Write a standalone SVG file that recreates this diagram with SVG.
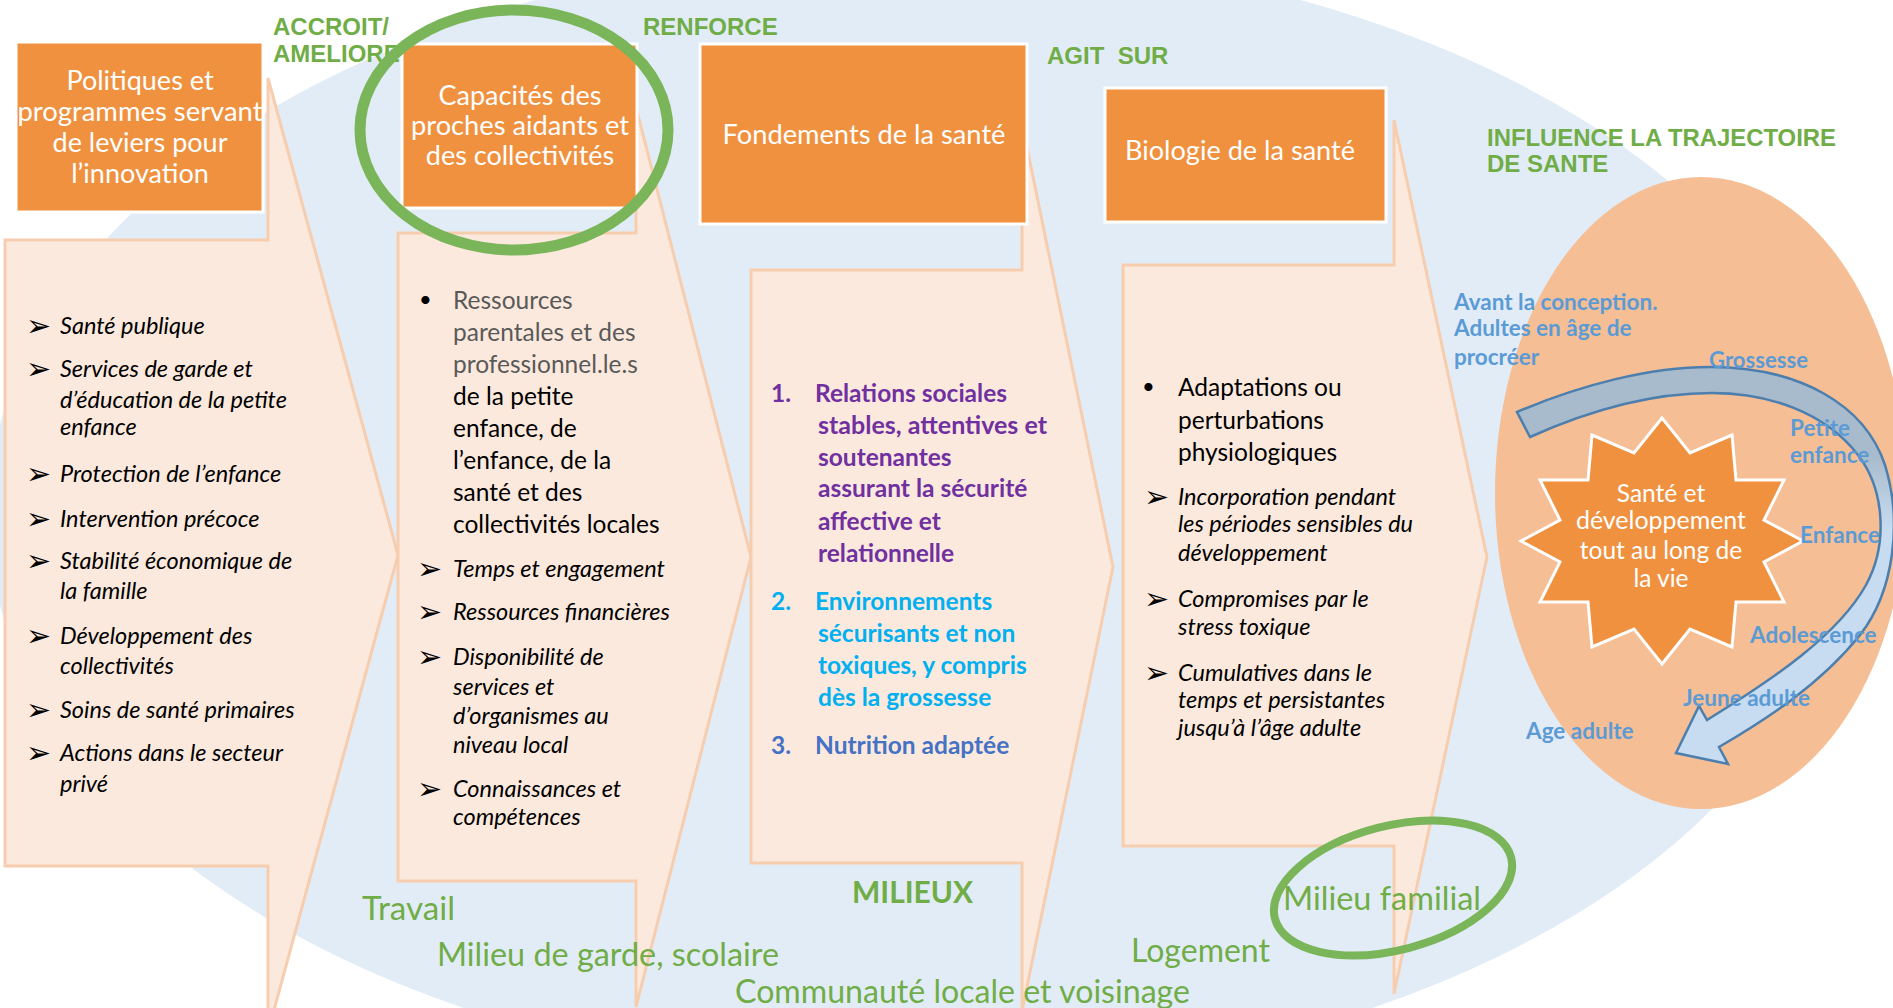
<svg xmlns="http://www.w3.org/2000/svg" width="1893" height="1008" viewBox="0 0 1893 1008">
<defs>
<linearGradient id="arrowGrad" gradientUnits="userSpaceOnUse" x1="0" y1="455" x2="0" y2="530">
<stop offset="0" stop-color="#A8BBCC"/><stop offset="1" stop-color="#C7DCF0"/>
</linearGradient>
<style>
.bg{fill:#E2ECF7}
.chev{fill:#FCE9DD;stroke:#F7CDB0;stroke-width:3}
.box{fill:#F0913F;stroke:#FFFFFF;stroke-width:3}
.bt{font-family:Lato,'Noto Sans',sans-serif;font-size:27px;fill:#FFFFFF;text-anchor:middle}
.verb{font-family:'Liberation Sans',Arial,sans-serif;font-weight:bold;font-size:24px;fill:#70AD47}
.it{font-family:Lato,'Noto Sans',sans-serif;font-style:italic;font-size:23.5px;fill:#000000}
.rg{font-family:Lato,'Noto Sans',sans-serif;font-size:24.5px;fill:#000000}
.grey{fill:#595959}
.bd{font-family:Lato,'Noto Sans',sans-serif;font-weight:bold;font-size:24.5px}
.p1{fill:#7030A0}.p2{fill:#00B0F0}.p3{fill:#4472C4}
.arw{font-family:'DejaVu Sans',sans-serif;font-size:30px;fill:#000000}
.dot{font-family:Lato,'Noto Sans',sans-serif;font-size:22px;fill:#000000}
.blu{font-family:Lato,'Noto Sans',sans-serif;font-weight:bold;font-size:22.5px;fill:#5B9BD5}
.st{font-family:Lato,'Noto Sans',sans-serif;font-size:24.5px;fill:#FFFFFF;text-anchor:middle}
.mil{font-family:Lato,'Noto Sans',sans-serif;font-size:32px;fill:#70AD47}
.milb{font-family:Lato,'Noto Sans',sans-serif;font-weight:bold;font-size:31px;fill:#70AD47}
.ring{fill:none;stroke:#7AB55A}
</style>
</defs>

<ellipse class="bg" cx="918" cy="515" rx="930" ry="565"/>
<ellipse cx="1701" cy="493" rx="206" ry="316" fill="#F5BE95"/>

<g id="col-politiques">
<path class="chev" d="M5,240 H268 V78 L398,555 L268,1032 V866 H5 Z"/>
<rect class="box" x="16" y="42" width="247" height="170"/>
<text class="bt" x="140" y="90">Politiques et</text>
<text class="bt" x="140" y="121" textLength="245" lengthAdjust="spacingAndGlyphs">programmes servant</text>
<text class="bt" x="140" y="152">de leviers pour</text>
<text class="bt" x="140" y="183">l’innovation</text>
<g class="arw">
<text x="26" y="336">➢</text><text x="26" y="379">➢</text><text x="26" y="484">➢</text><text x="26" y="529">➢</text>
<text x="26" y="571">➢</text><text x="26" y="646">➢</text><text x="26" y="720">➢</text><text x="26" y="763">➢</text>
</g>
<g class="it">
<text x="60" y="334">Santé publique</text>
<text x="60" y="377">Services de garde et</text>
<text x="60" y="408">d’éducation de la petite</text>
<text x="60" y="435">enfance</text>
<text x="60" y="482">Protection de l’enfance</text>
<text x="60" y="527">Intervention précoce</text>
<text x="60" y="569">Stabilité économique de</text>
<text x="60" y="599">la famille</text>
<text x="60" y="644">Développement des</text>
<text x="60" y="674">collectivités</text>
<text x="60" y="718">Soins de santé primaires</text>
<text x="60" y="761">Actions dans le secteur</text>
<text x="60" y="792">privé</text>
</g>
</g>

<g id="col-capacites">
<path class="chev" d="M398,233 H636 V107 L751,557 L636,1007 V881 H398 Z"/>
<rect class="box" x="402" y="44" width="235" height="164"/>
<text class="bt" x="520" y="105">Capacités des</text>
<text class="bt" x="520" y="135" textLength="218" lengthAdjust="spacingAndGlyphs">proches aidants et</text>
<text class="bt" x="520" y="165">des collectivités</text>
<text class="dot" x="419" y="307">•</text>
<text class="rg grey" x="453" y="309">Ressources</text>
<text class="rg grey" x="453" y="341">parentales et des</text>
<text class="rg grey" x="453" y="373">professionnel.le.s</text>
<text class="rg" x="453" y="405">de la petite</text>
<text class="rg" x="453" y="437">enfance, de</text>
<text class="rg" x="453" y="469">l’enfance, de la</text>
<text class="rg" x="453" y="501">santé et des</text>
<text class="rg" x="453" y="533">collectivités locales</text>
<g class="arw">
<text x="417" y="579">➢</text><text x="417" y="622">➢</text><text x="417" y="667">➢</text><text x="417" y="799">➢</text>
</g>
<g class="it">
<text x="453" y="577">Temps et engagement</text>
<text x="453" y="620">Ressources financières</text>
<text x="453" y="665">Disponibilité de</text>
<text x="453" y="695">services et</text>
<text x="453" y="724">d’organismes au</text>
<text x="453" y="753">niveau local</text>
<text x="453" y="797">Connaissances et</text>
<text x="453" y="825">compétences</text>
</g>
</g>

<g id="col-fondements">
<path class="chev" d="M751,270 H1022 V123 L1113,567 L1022,1011 V863 H751 Z"/>
<rect class="box" x="700" y="44" width="327" height="180"/>
<text class="bt" x="864" y="144" textLength="283" lengthAdjust="spacingAndGlyphs">Fondements de la santé</text>
<g class="bd p1">
<text x="771" y="402">1.</text>
<text x="815" y="402">Relations sociales</text>
<text x="818" y="434" textLength="229" lengthAdjust="spacingAndGlyphs">stables, attentives et</text>
<text x="818" y="466">soutenantes</text>
<text x="818" y="497">assurant la sécurité</text>
<text x="818" y="530">affective et</text>
<text x="818" y="562">relationnelle</text>
</g>
<g class="bd p2">
<text x="771" y="610">2.</text>
<text x="815" y="610">Environnements</text>
<text x="818" y="642">sécurisants et non</text>
<text x="818" y="674">toxiques, y compris</text>
<text x="818" y="706">dès la grossesse</text>
</g>
<g class="bd p3">
<text x="771" y="754">3.</text>
<text x="815" y="754">Nutrition adaptée</text>
</g>
</g>

<g id="col-biologie">
<path class="chev" d="M1123,265 H1394 V120 L1487,557 L1394,994 V846 H1123 Z"/>
<rect class="box" x="1105" y="88" width="281" height="134"/>
<text class="bt" x="1240" y="160" textLength="230" lengthAdjust="spacingAndGlyphs">Biologie de la santé</text>
<text class="dot" x="1142" y="394">•</text>
<text class="rg" x="1178" y="396">Adaptations ou</text>
<text class="rg" x="1178" y="429">perturbations</text>
<text class="rg" x="1178" y="461">physiologiques</text>
<g class="arw">
<text x="1144" y="507">➢</text><text x="1144" y="609">➢</text><text x="1144" y="683">➢</text>
</g>
<g class="it">
<text x="1178" y="505">Incorporation pendant</text>
<text x="1178" y="532" textLength="235" lengthAdjust="spacingAndGlyphs">les périodes sensibles du</text>
<text x="1178" y="561">développement</text>
<text x="1178" y="607">Compromises par le</text>
<text x="1178" y="635">stress toxique</text>
<text x="1178" y="681">Cumulatives dans le</text>
<text x="1178" y="708">temps et persistantes</text>
<text x="1178" y="736">jusqu’à l’âge adulte</text>
</g>
</g>

<g id="verbs">
<text class="verb" x="273" y="35">ACCROIT/</text>
<text class="verb" x="273" y="62">AMELIORE</text>
<text class="verb" x="643" y="35">RENFORCE</text>
<text class="verb" x="1047" y="64" xml:space="preserve">AGIT  SUR</text>
<text class="verb" x="1487" y="146" textLength="349" lengthAdjust="spacingAndGlyphs">INFLUENCE LA TRAJECTOIRE</text>
<text class="verb" x="1487" y="172">DE SANTE</text>
</g>

<g id="connectors">
<path d="M1517,412 C1580,385 1650,367 1710,367 C1800,367 1865,405 1885,465 C1902,520 1895,590 1860,635 C1820,685 1765,720 1719,747 L1728,764 L1676,753 L1699,706 L1707,720 C1775,678 1838,635 1866,585 C1888,545 1885,490 1858,455 C1825,412 1768,393 1712,393 C1650,393 1590,410 1530,437 Z" fill="url(#arrowGrad)" stroke="#4D7FAE" stroke-width="2.5" stroke-linejoin="miter"/>
</g>

<g id="star">
<polygon points="1662,418 1690,453 1732,435 1736,480 1784,480 1764,520 1803,541 1764,562 1784,602 1736,602 1732,647 1690,629 1662,664 1634,629 1592,647 1588,602 1540,602 1560,562 1521,541 1560,520 1540,480 1588,480 1592,435 1634,453" fill="#F0913F" stroke="#FFFFFF" stroke-width="3"/>
<text class="st" x="1661" y="502">Santé et</text>
<text class="st" x="1661" y="529" textLength="170" lengthAdjust="spacingAndGlyphs">développement</text>
<text class="st" x="1661" y="559">tout au long de</text>
<text class="st" x="1661" y="587">la vie</text>
</g>

<g id="ages" class="blu">
<text x="1454" y="310">Avant la conception.</text>
<text x="1454" y="336">Adultes en âge de</text>
<text x="1454" y="365">procréer</text>
<text x="1709" y="368" textLength="99" lengthAdjust="spacingAndGlyphs">Grossesse</text>
<text x="1790" y="436">Petite</text>
<text x="1790" y="463">enfance</text>
<text x="1800" y="543">Enfance</text>
<text x="1750" y="643">Adolescence</text>
<text x="1683" y="706">Jeune adulte</text>
<text x="1526" y="739">Age adulte</text>
</g>

<g id="milieux">
<text class="mil" x="362" y="920" textLength="93" lengthAdjust="spacingAndGlyphs">Travail</text>
<text class="mil" x="437" y="966" textLength="342" lengthAdjust="spacingAndGlyphs">Milieu de garde, scolaire</text>
<text class="milb" x="852" y="903" textLength="121" lengthAdjust="spacingAndGlyphs">MILIEUX</text>
<text class="mil" x="735" y="1003" textLength="455" lengthAdjust="spacingAndGlyphs">Communauté locale et voisinage</text>
<text class="mil" x="1131" y="962" textLength="139" lengthAdjust="spacingAndGlyphs">Logement</text>
<text class="mil" x="1283" y="910" textLength="198" lengthAdjust="spacingAndGlyphs">Milieu familial</text>
</g>

<g id="highlights">
<ellipse class="ring" cx="514" cy="130" rx="154" ry="120" stroke-width="11"/>
<ellipse class="ring" cx="1393" cy="888" rx="122" ry="62" stroke-width="8" transform="rotate(-14.5 1393 888)"/>
</g>
</svg>
